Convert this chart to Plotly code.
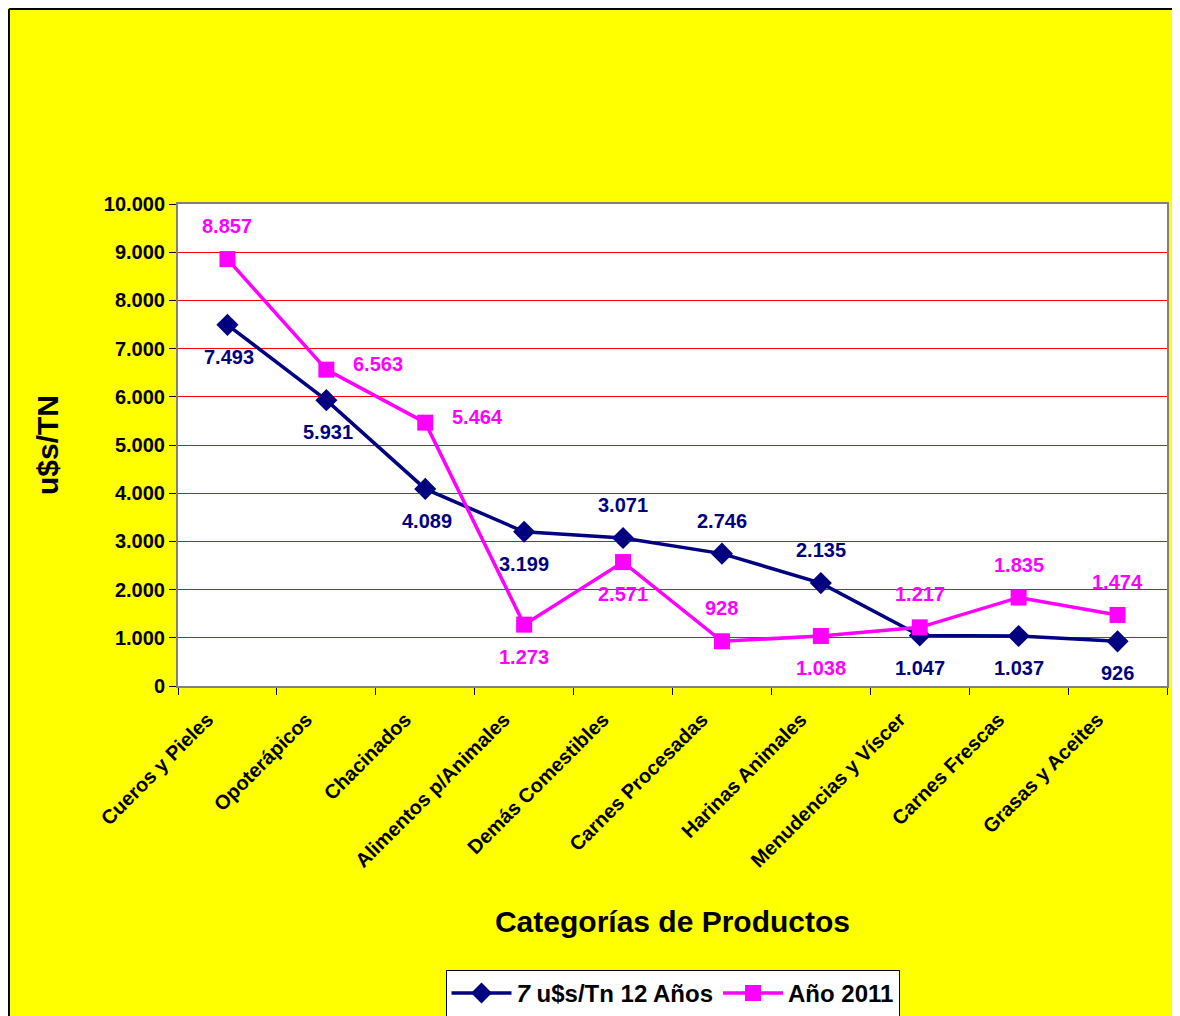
import plotly.graph_objects as go

categories = ["Cueros y Pieles", "Opoterápicos", "Chacinados", "Alimentos p/Animales",
              "Demás Comestibles", "Carnes Procesadas", "Harinas Animales",
              "Menudencias y Víscer", "Carnes Frescas", "Grasas y Aceites"]
avg_12 = [7493, 5931, 4089, 3199, 3071, 2746, 2135, 1047, 1037, 926]
year_2011 = [8857, 6563, 5464, 1273, 2571, 928, 1038, 1217, 1835, 1474]
series_names = ["<i>7</i> u$s/Tn 12 Años", "Año 2011"]

# label placement (direction only)
avg_pos = ["bl", "bl", "bl", "b", "t", "t", "t", "b", "b", "b"]
y11_pos = ["t", "r", "r", "b", "b", "t", "b", "t", "t", "t"]

NAVY = "#000080"
PINK = "#FF00FF"
FONT = "Liberation Sans, Arial, sans-serif"

def fmt(v):
    return f"{v:,}".replace(",", ".")

fig = go.Figure()
fig.add_trace(go.Scatter(x=categories, y=avg_12, name="<b>" + series_names[0] + "</b>",
                         mode="lines+markers",
                         line=dict(color=NAVY, width=3.5),
                         marker=dict(symbol="diamond", size=17, color=NAVY)))
fig.add_trace(go.Scatter(x=categories, y=year_2011, name="<b>" + series_names[1] + "</b>",
                         mode="lines+markers",
                         line=dict(color=PINK, width=3.5),
                         marker=dict(symbol="square", size=16, color=PINK)))

shift = {"t": (0, 33), "b": (0, -32), "bl": (2, -32), "r": (52, 6)}
annotations = []
for vals, poss, col in ((avg_12, avg_pos, NAVY), (year_2011, y11_pos, PINK)):
    for c, v, p in zip(categories, vals, poss):
        dx, dy = shift[p]
        annotations.append(dict(x=c, y=v, text="<b>" + fmt(v) + "</b>", showarrow=False,
                                xshift=dx, yshift=dy,
                                font=dict(family=FONT, size=20, color=col)))

shapes = [
    dict(type="line", xref="paper", yref="paper", x0=-0.1709, x1=1.02, y0=1.4046, y1=1.4046,
         line=dict(color="black", width=2), layer="above"),
    dict(type="line", xref="paper", yref="paper", x0=-0.1709, x1=-0.1709, y0=-0.7, y1=1.4046,
         line=dict(color="black", width=2), layer="above"),
]

fig.update_layout(
    width=1172, height=1008,
    margin=dict(l=170, r=13, t=196, b=330, autoexpand=False),
    paper_bgcolor="#FFFF00", plot_bgcolor="white",
    separators=",.",
    font=dict(family=FONT, color="black"),
    showlegend=True,
    legend=dict(orientation="h", x=0.5, xanchor="center", y=-0.589, yanchor="top",
                bgcolor="white", bordercolor="black", borderwidth=1,
                font=dict(family=FONT, size=24, color="black"),
                itemwidth=60, tracegroupgap=0),
    annotations=annotations,
    shapes=shapes,
    xaxis=dict(type="category", range=[-0.5, 9.5], tickangle=-45, tickson="boundaries",
               ticks="outside", ticklen=7, tickcolor="black", showgrid=False,
               showline=True, linecolor="#808080", linewidth=2, mirror=True,
               tickfont=dict(family=FONT, size=20, color="black"),
               tickprefix="<b>", ticksuffix="</b>",
               ticklabelshift=-20, ticklabelstandoff=12, automargin=False,
               title=dict(text="<b>Categorías de Productos</b>", standoff=40,
                          font=dict(family=FONT, size=30, color="black"))),
    yaxis=dict(range=[0, 10000], dtick=1000, tickformat=",d", ticks="outside", ticklen=7,
               tickcolor="black", showgrid=True, gridcolor="#FF0000", gridwidth=1,
               showline=True, linecolor="#808080", linewidth=2, mirror=True, zeroline=False,
               tickfont=dict(family=FONT, size=20, color="black"),
               tickprefix="<b>", ticksuffix="</b>", automargin=False,
               title=dict(text="<b>u$s/TN</b>", standoff=36,
                          font=dict(family=FONT, size=30, color="black"))),
)

fig.write_html("out.html")
